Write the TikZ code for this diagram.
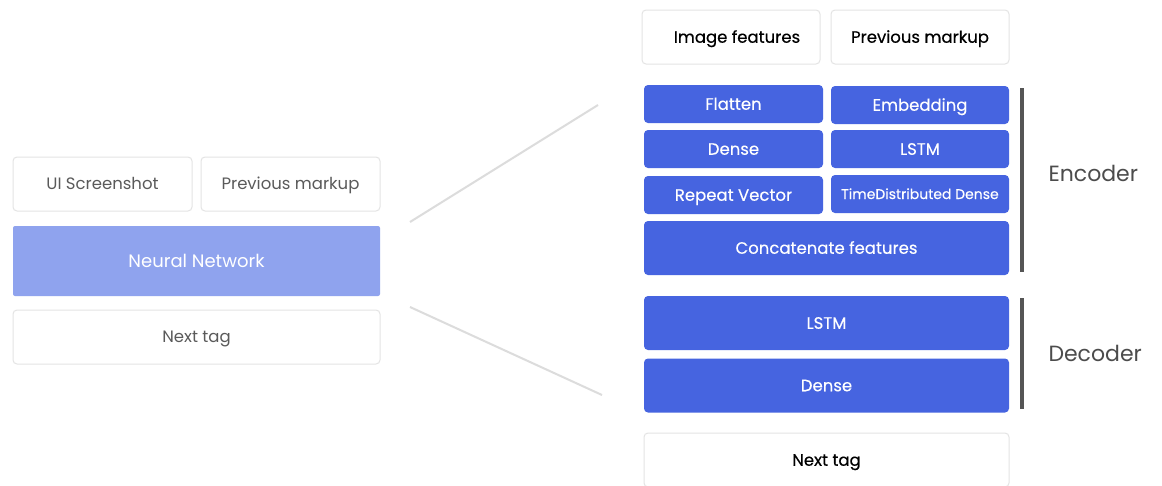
\documentclass[tikz,border=0pt]{standalone}
\usepackage{fontspec}
\setmainfont{Poppins}
\definecolor{nnblue}{HTML}{4664E0}
\definecolor{nnlight}{HTML}{8FA3EE}
\definecolor{boxline}{HTML}{E4E4E4}
\definecolor{greytxt}{HTML}{5A5A5A}
\definecolor{barcol}{HTML}{555555}
\definecolor{linecol}{HTML}{DCDCDC}
\tikzset{
  x=1pt,y=-1pt,
  base/.style={inner sep=0pt, rounded corners=4pt, text height=11.5pt, text depth=0pt,
    font=\fontsize{16.5}{18}\selectfont},
  whitebox/.style={base, draw=boxline, line width=1pt, fill=white, text=greytxt},
  inbox/.style={base, draw=boxline, line width=1pt, fill=white, text=black,
    font=\fontsize{16.5}{18}\selectfont\addfontfeature{FakeBold=0.5}},
  bluebox/.style={base, fill=nnblue, text=white,
    font=\fontsize{16.5}{18}\selectfont\addfontfeature{FakeBold=0.3}},
  lightbox/.style={base, fill=nnlight, text=white, rounded corners=2pt,
    font=\fontsize{18}{20}\selectfont, text height=12.5pt},
  sidebar/.style={draw=barcol, line width=4pt},
  sidelabel/.style={font=\fontsize{22}{26}\selectfont, text=barcol!90!black, anchor=west},
  link/.style={draw=linecol, line width=2pt},
}
\begin{document}
\begin{tikzpicture}
\clip (0,0) rectangle (1162,485);
\fill[white] (0,0) rectangle (1162,485);
% left
\node[whitebox, minimum width=179pt, minimum height=54pt] (ui) at (102.5,184) {UI Screenshot};
\node[whitebox, minimum width=179pt, minimum height=54pt] (pm) at (290.5,184) {Previous markup};
\node[lightbox, minimum width=367pt, minimum height=70pt] (nn) at (196.5,261) {Neural Network};
\node[whitebox, minimum width=367pt, minimum height=54pt] (nt) at (196.5,337) {Next tag};
% right top
\node[inbox, minimum width=178pt, minimum height=54pt] (imf) at (731,37) {\hspace*{12pt}Image features};
\node[inbox, minimum width=178pt, minimum height=54pt] (pm2) at (920,37) {Previous markup};
% encoder
\node[bluebox, minimum width=179pt, minimum height=38pt] (flat) at (733.5,104) {Flatten};
\node[bluebox, minimum width=178pt, minimum height=38pt] (emb) at (920,105) {Embedding};
\node[bluebox, minimum width=179pt, minimum height=38pt] (dense1) at (733.5,149) {Dense};
\node[bluebox, minimum width=178pt, minimum height=38pt] (lstm1) at (920,149) {LSTM};
\node[bluebox, minimum width=179pt, minimum height=38pt] (rep) at (733.5,195) {Repeat Vector};
\node[bluebox, minimum width=178pt, minimum height=38pt, font=\fontsize{14}{16}\selectfont\addfontfeature{FakeBold=0.3}, text height=10pt] (tdd) at (920,194) {TimeDistributed Dense};
\node[bluebox, minimum width=365pt, minimum height=54pt] (cat) at (826.5,248) {Concatenate features};
% decoder
\node[bluebox, minimum width=365pt, minimum height=54pt] (lstm2) at (826.5,323) {LSTM};
\node[bluebox, minimum width=365pt, minimum height=54pt] (dense2) at (826.5,385.5) {Dense};
\node[inbox, minimum width=365pt, minimum height=54pt] (nt2) at (826.5,460) {Next tag};
% bars
\coordinate (encT) at (1022,88);
\coordinate (encB) at (1022,272);
\coordinate (decT) at (1022,298);
\coordinate (decB) at (1022,409);
\draw[sidebar] (encT) -- (encB);
\draw[sidebar] (decT) -- (decB);
\node[sidelabel] (enc) at (1045,173) {Encoder};
\node[sidelabel] (dec) at (1045,353) {Decoder};
% links
\coordinate (l1a) at (410,222);
\coordinate (l1b) at (598,105);
\coordinate (l2a) at (410,307);
\coordinate (l2b) at (602,395);
\draw[link] (l1a) -- (l1b);
\draw[link] (l2a) -- (l2b);
\end{tikzpicture}
\end{document}
